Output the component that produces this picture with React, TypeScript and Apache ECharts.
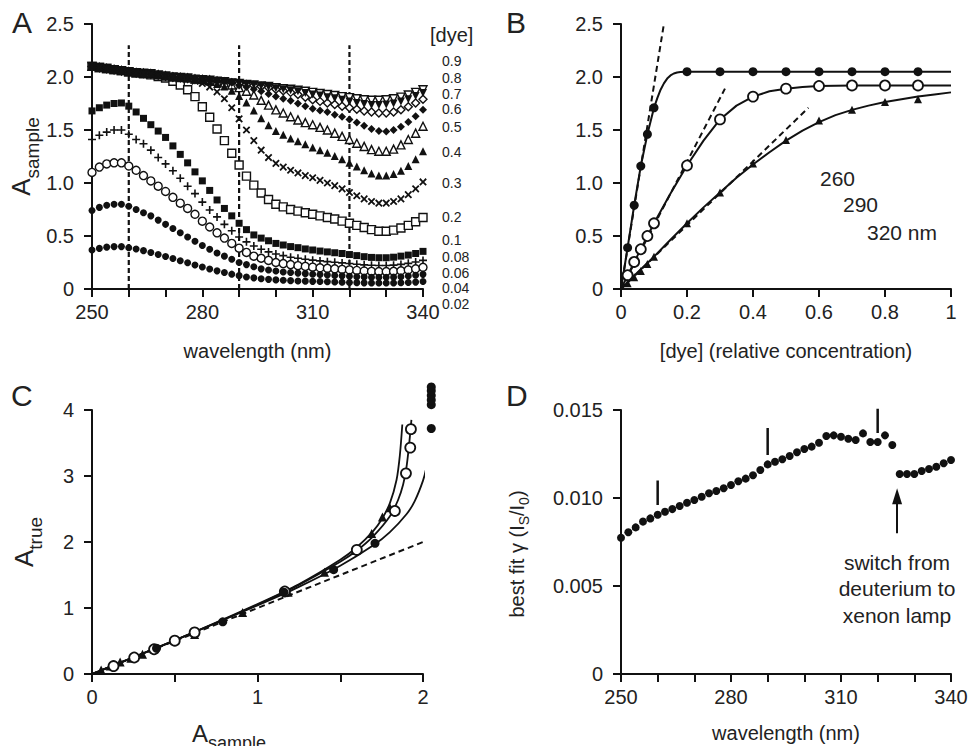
import React, { useEffect, useRef } from 'react';
import * as echarts from 'echarts';

// ---------- Panel A: spectra (wavelength, nm) ----------
const wl = [250,252,254,256,258,260,262,264,266,268,270,272,274,276,278,280,282,284,286,288,290,292,294,296,298,300,302,304,306,308,310,312,314,316,318,320,322,324,326,328,330,332,334,336,338,340];

const dye002 = [0.368,0.383,0.395,0.4,0.4,0.39,0.378,0.362,0.345,0.326,0.306,0.287,0.267,0.247,0.227,0.207,0.188,0.171,0.155,0.14,0.126,0.114,0.105,0.097,0.091,0.086,0.082,0.079,0.076,0.074,0.072,0.07,0.068,0.066,0.064,0.062,0.06,0.058,0.057,0.056,0.056,0.057,0.059,0.062,0.065,0.07];
const dye004 = [0.74,0.77,0.79,0.8,0.8,0.78,0.75,0.72,0.69,0.65,0.61,0.57,0.53,0.49,0.45,0.41,0.375,0.34,0.31,0.28,0.25,0.23,0.21,0.19,0.18,0.17,0.16,0.155,0.15,0.145,0.14,0.136,0.132,0.128,0.124,0.12,0.116,0.113,0.111,0.11,0.11,0.112,0.116,0.122,0.13,0.138];
const dye006 = [1.1,1.15,1.18,1.19,1.19,1.16,1.12,1.07,1.02,0.97,0.92,0.865,0.81,0.76,0.705,0.64,0.585,0.53,0.48,0.43,0.385,0.345,0.31,0.29,0.27,0.25,0.24,0.23,0.22,0.213,0.206,0.2,0.195,0.19,0.185,0.18,0.175,0.17,0.166,0.164,0.164,0.167,0.172,0.18,0.19,0.205];
const dye008 = [1.41,1.45,1.48,1.5,1.5,1.46,1.41,1.37,1.31,1.24,1.18,1.115,1.045,0.97,0.9,0.82,0.745,0.68,0.61,0.55,0.49,0.445,0.405,0.375,0.35,0.33,0.315,0.3,0.29,0.28,0.272,0.265,0.258,0.252,0.246,0.24,0.234,0.228,0.224,0.222,0.222,0.225,0.232,0.242,0.255,0.27];
const dye01 = [1.68,1.71,1.735,1.75,1.755,1.725,1.67,1.61,1.55,1.49,1.43,1.35,1.27,1.19,1.105,1.02,0.93,0.84,0.76,0.69,0.62,0.56,0.51,0.48,0.455,0.43,0.415,0.4,0.39,0.378,0.368,0.358,0.35,0.342,0.335,0.325,0.315,0.305,0.298,0.295,0.295,0.3,0.31,0.32,0.335,0.355];
const dye02 = [2.1,2.09,2.08,2.07,2.06,2.05,2.04,2.03,2.02,2.005,1.99,1.96,1.925,1.88,1.815,1.72,1.62,1.51,1.4,1.28,1.17,1.065,0.98,0.905,0.845,0.8,0.775,0.75,0.735,0.72,0.705,0.69,0.675,0.66,0.64,0.62,0.6,0.58,0.56,0.545,0.545,0.555,0.575,0.6,0.635,0.675];
const dye03 = [2.1,2.09,2.08,2.07,2.06,2.05,2.04,2.035,2.03,2.02,2.01,2.0,1.995,1.99,1.96,1.94,1.905,1.86,1.795,1.71,1.605,1.5,1.4,1.31,1.24,1.185,1.15,1.12,1.095,1.07,1.05,1.025,1.0,0.975,0.945,0.91,0.88,0.85,0.825,0.81,0.81,0.825,0.85,0.89,0.945,1.01];
const dye04 = [2.1,2.09,2.08,2.07,2.06,2.05,2.04,2.035,2.03,2.02,2.01,2.0,1.995,1.99,1.98,1.975,1.955,1.935,1.91,1.87,1.82,1.76,1.685,1.61,1.545,1.49,1.455,1.42,1.395,1.365,1.335,1.31,1.285,1.255,1.225,1.19,1.155,1.12,1.09,1.07,1.07,1.085,1.115,1.16,1.225,1.3];
const dye05 = [2.1,2.09,2.08,2.07,2.06,2.05,2.04,2.035,2.03,2.02,2.01,2.0,1.995,1.99,1.98,1.975,1.97,1.96,1.945,1.925,1.9,1.865,1.83,1.78,1.735,1.69,1.66,1.625,1.595,1.57,1.55,1.525,1.5,1.47,1.44,1.41,1.375,1.345,1.315,1.3,1.3,1.32,1.36,1.41,1.47,1.535];
const dye06 = [2.1,2.09,2.08,2.07,2.06,2.05,2.04,2.035,2.03,2.02,2.01,2.0,1.995,1.99,1.98,1.975,1.97,1.96,1.955,1.945,1.92,1.905,1.885,1.865,1.84,1.815,1.795,1.775,1.75,1.725,1.7,1.685,1.67,1.645,1.625,1.6,1.57,1.54,1.51,1.49,1.485,1.5,1.53,1.575,1.63,1.69];
const dye07 = [2.1,2.09,2.08,2.07,2.06,2.05,2.04,2.035,2.03,2.02,2.01,2.0,1.995,1.99,1.98,1.975,1.97,1.96,1.955,1.945,1.94,1.93,1.92,1.91,1.9,1.885,1.87,1.855,1.835,1.81,1.785,1.77,1.755,1.74,1.725,1.71,1.695,1.68,1.67,1.66,1.66,1.67,1.69,1.72,1.755,1.79];
const dye08 = [2.1,2.09,2.08,2.07,2.06,2.05,2.04,2.035,2.03,2.02,2.01,2.0,1.995,1.99,1.98,1.975,1.97,1.96,1.955,1.945,1.94,1.93,1.925,1.915,1.905,1.895,1.885,1.875,1.865,1.85,1.835,1.825,1.81,1.8,1.785,1.77,1.755,1.745,1.735,1.735,1.74,1.75,1.77,1.79,1.82,1.85];
const dye09 = [2.1,2.09,2.08,2.07,2.06,2.05,2.04,2.035,2.03,2.02,2.01,2.0,1.995,1.99,1.98,1.975,1.97,1.96,1.955,1.945,1.94,1.93,1.925,1.915,1.91,1.9,1.89,1.885,1.875,1.865,1.855,1.845,1.835,1.825,1.815,1.805,1.795,1.785,1.78,1.78,1.785,1.795,1.81,1.83,1.855,1.88];

const dyeLabels = ['0.9','0.8','0.7','0.6','0.5','0.4','0.3','0.2','0.1','0.08','0.06','0.04','0.02'];
const dashWl = [260, 290, 320];
const dashTop = 2.3;

// ---------- Panel B: absorbance vs concentration ----------
const bConc = [0.02,0.04,0.06,0.08,0.1,0.2,0.3,0.4,0.5,0.6,0.7,0.8,0.9];
const bA260 = [0.39,0.79,1.16,1.46,1.71,2.05,2.05,2.05,2.05,2.05,2.05,2.05,2.05];
const bA290 = [0.13,0.255,0.375,0.5,0.62,1.165,1.6,1.815,1.89,1.915,1.92,1.92,1.92];
const bA320 = [0.055,0.11,0.17,0.235,0.305,0.62,0.91,1.185,1.405,1.59,1.69,1.765,1.79];
const bFit260c = [0,0.02,0.04,0.06,0.08,0.1,0.11,0.12,0.13,0.14,0.15,0.16,0.17,0.18,0.2,1.0];
const bFit260a = [0,0.39,0.79,1.16,1.46,1.71,1.8,1.88,1.94,1.985,2.015,2.033,2.043,2.048,2.05,2.05];
const bFitC = [0,0.05,0.1,0.15,0.2,0.25,0.3,0.35,0.4,0.45,0.5,0.55,0.6,0.65,0.7,0.75,0.8,0.85,0.9,0.95,1.0];
const bFit290a = [0,0.315,0.62,0.9,1.165,1.4,1.6,1.73,1.815,1.865,1.89,1.905,1.915,1.918,1.92,1.92,1.92,1.92,1.92,1.92,1.92];
const bFit320a = [0,0.155,0.305,0.465,0.62,0.77,0.91,1.05,1.175,1.29,1.4,1.495,1.575,1.64,1.69,1.73,1.765,1.79,1.815,1.835,1.855];
const bLin260 = [[0,0],[0.13,2.5]];
const bLin290 = [[0,0],[0.315,1.89]];
const bLin320 = [[0,0],[0.568,1.71]];
const bLabels = ['260', '290', '320 nm'];

// ---------- Panel C: A_true vs A_sample ----------
const cS260 = [0.39,0.79,1.16,1.46,1.71,2.05,2.05,2.05,2.05,2.05,2.05];
const cT260 = [0.39,0.79,1.24,1.58,1.98,3.72,4.08,4.15,4.22,4.29,4.35];
const cS290 = [0.13,0.255,0.375,0.5,0.62,1.165,1.6,1.83,1.897,1.923,1.927];
const cT290 = [0.12,0.25,0.375,0.505,0.63,1.25,1.88,2.47,3.04,3.43,3.71];
const cS320 = [0.055,0.11,0.17,0.235,0.305,0.62,0.91,1.185,1.405,1.59,1.69,1.755,1.8];
const cT320 = [0.06,0.12,0.18,0.24,0.3,0.6,0.93,1.24,1.54,1.87,2.13,2.38,2.52];
const cFit260 = [[0,0],[0.5,0.51],[1,1.04],[1.25,1.32],[1.5,1.64],[1.7,1.95],[1.8,2.15],[1.9,2.42],[1.95,2.62],[2.0,2.93],[2.02,3.13],[2.04,3.5],[2.048,3.9],[2.05,4.35]];
const cFit290 = [[0,0],[0.5,0.51],[1,1.05],[1.25,1.35],[1.5,1.7],[1.6,1.87],[1.7,2.09],[1.8,2.39],[1.85,2.64],[1.88,2.87],[1.9,3.13],[1.915,3.45],[1.93,3.85]];
const cFit320 = [[0,0],[0.5,0.51],[1,1.06],[1.25,1.36],[1.5,1.73],[1.6,1.92],[1.7,2.17],[1.75,2.34],[1.8,2.59],[1.84,2.94],[1.86,3.31],[1.875,3.78]];
const cIdentity = [[0,0],[2,2]];

// ---------- Panel D: best-fit gamma ----------
const dGamma = [0.00774,0.00805,0.00833,0.00866,0.00884,0.00905,0.00922,0.00937,0.00955,0.00973,0.00989,0.01007,0.01027,0.0104,0.01055,0.01074,0.01095,0.0111,0.01129,0.01159,0.01191,0.01206,0.0122,0.01239,0.0126,0.01278,0.01292,0.01314,0.01352,0.01356,0.01348,0.01337,0.0133,0.01367,0.01318,0.01318,0.01356,0.01301,0.01136,0.01136,0.01136,0.01153,0.01165,0.01178,0.01197,0.01216];
const dBarWl = [260, 290, 320];
const dBarLow = [0.0096, 0.01244, 0.01369];
const dBarHigh = [0.011, 0.01398, 0.01523];
const dArrowWl = 325.3;
const dArrowFrom = 0.008;
const dArrowTo = 0.0101;
const dNote = ['switch from', 'deuterium to', 'xenon lamp'];

const FONT = "'Liberation Sans', Arial, Helvetica, sans-serif";
const TXT = '#222';
const INK = '#111';
const PLUS = 'path://M4,0h2v4h4v2h-4v4h-2v-4h-4v-2h4z';

const open = { color: '#fff', borderColor: INK, borderWidth: 1.4, opacity: 1 };
const filled = { color: INK, borderWidth: 0, opacity: 1 };

const subRich = (mainSize: number, subSize: number, pad: number) => ({
  a: { fontSize: mainSize, fontFamily: FONT, color: TXT },
  s: { fontSize: subSize, fontFamily: FONT, color: TXT, padding: [pad, 0, 0, 0] },
});

function axisBase(extra: any) {
  return {
    type: 'value',
    axisLine: { show: true, onZero: false, lineStyle: { color: INK, width: 2 } },
    axisTick: { show: true, length: 8, lineStyle: { color: INK, width: 2 } },
    splitLine: { show: false },
    ...extra,
    nameTextStyle: { color: TXT, fontSize: 20, fontFamily: FONT, ...(extra.nameTextStyle || {}) },
    axisLabel: { color: TXT, fontSize: 20, fontFamily: FONT, ...(extra.axisLabel || {}) },
  };
}

function buildOption() {
  const fmt1 = (v: number) => (v === 0 ? '0' : v.toFixed(1));
  const xWl = (v: number) => ((v - 250) % 30 === 0 ? String(v) : '');

  const aSpecs = [
    { d: dye02, sym: 'rect', rot: 0, size: 8, st: open },
    { d: dye09, sym: 'triangle', rot: 180, size: 8, st: open },
    { d: dye07, sym: 'diamond', rot: 0, size: 8, st: open },
    { d: dye05, sym: 'triangle', rot: 0, size: 8, st: open },
    { d: dye08, sym: 'triangle', rot: 180, size: 8, st: filled },
    { d: dye06, sym: 'diamond', rot: 0, size: 8, st: filled },
    { d: dye04, sym: 'triangle', rot: 0, size: 8, st: filled },
    { d: dye03, sym: PLUS, rot: 45, size: 9, st: filled },
    { d: dye01, sym: 'rect', rot: 0, size: 7, st: filled },
    { d: dye008, sym: PLUS, rot: 0, size: 8, st: filled },
    { d: dye006, sym: 'circle', rot: 0, size: 8, st: open },
    { d: dye004, sym: 'circle', rot: 0, size: 7, st: filled },
    { d: dye002, sym: 'circle', rot: 0, size: 7, st: filled },
  ];

  const series: any[] = [];
  dashWl.forEach((w) => {
    series.push({
      type: 'line', xAxisIndex: 0, yAxisIndex: 0, data: [[w, 0], [w, dashTop]], symbol: 'none', silent: true,
      lineStyle: { color: INK, width: 2.2, type: [5, 3] }, z: 1,
    });
  });
  aSpecs.forEach((s) => {
    series.push({
      type: 'scatter', xAxisIndex: 0, yAxisIndex: 0, symbol: s.sym, symbolRotate: s.rot, symbolSize: s.size,
      data: wl.map((w, i) => [w, s.d[i]]), itemStyle: s.st, silent: true, z: 3,
    });
  });

  // Panel B
  const lineB = (c: number[], a: number[]) => ({
    type: 'line', xAxisIndex: 1, yAxisIndex: 1, data: c.map((x, i) => [x, a[i]]), symbol: 'none', smooth: false,
    silent: true, lineStyle: { color: INK, width: 2 }, z: 2,
  });
  series.push(lineB(bFit260c, bFit260a), lineB(bFitC, bFit290a), lineB(bFitC, bFit320a));
  [bLin260, bLin290, bLin320].forEach((d) => series.push({
    type: 'line', xAxisIndex: 1, yAxisIndex: 1, data: d, symbol: 'none', silent: true,
    lineStyle: { color: INK, width: 2, type: [6, 4] }, z: 2,
  }));
  series.push(
    { type: 'scatter', xAxisIndex: 1, yAxisIndex: 1, symbol: 'circle', symbolSize: 9, data: bConc.map((c, i) => [c, bA260[i]]), itemStyle: filled, z: 3, silent: true },
    { type: 'scatter', xAxisIndex: 1, yAxisIndex: 1, symbol: 'circle', symbolSize: 10, data: bConc.map((c, i) => [c, bA290[i]]), itemStyle: { ...open, borderWidth: 1.8 }, z: 3, silent: true },
    { type: 'scatter', xAxisIndex: 1, yAxisIndex: 1, symbol: 'triangle', symbolSize: 8, data: bConc.map((c, i) => [c, bA320[i]]), itemStyle: filled, z: 3, silent: true },
  );

  // Panel C
  [cFit260, cFit290, cFit320].forEach((d) => series.push({
    type: 'line', xAxisIndex: 2, yAxisIndex: 2, data: d, symbol: 'none', smooth: 0.3, clip: false, silent: true,
    lineStyle: { color: INK, width: 1.8 }, z: 2,
  }));
  series.push({
    type: 'line', xAxisIndex: 2, yAxisIndex: 2, data: cIdentity, symbol: 'none', silent: true,
    lineStyle: { color: INK, width: 2, type: [6, 4] }, z: 2,
  });
  series.push(
    { type: 'scatter', xAxisIndex: 2, yAxisIndex: 2, symbol: 'triangle', symbolSize: 9, data: cS320.map((a, i) => [a, cT320[i]]), itemStyle: filled, z: 3, clip: false, silent: true },
    { type: 'scatter', xAxisIndex: 2, yAxisIndex: 2, symbol: 'circle', symbolSize: 10, data: cS290.map((a, i) => [a, cT290[i]]), itemStyle: { ...open, borderWidth: 1.8 }, z: 3, clip: false, silent: true },
    { type: 'scatter', xAxisIndex: 2, yAxisIndex: 2, symbol: 'circle', symbolSize: 9, data: cS260.map((a, i) => [a, cT260[i]]), itemStyle: filled, z: 3, clip: false, silent: true },
  );

  // Panel D
  dBarWl.forEach((w, i) => series.push({
    type: 'line', xAxisIndex: 3, yAxisIndex: 3, data: [[w, dBarLow[i]], [w, dBarHigh[i]]], symbol: 'none', silent: true,
    lineStyle: { color: INK, width: 2.5 }, z: 2,
  }));
  series.push({
    type: 'scatter', xAxisIndex: 3, yAxisIndex: 3, symbol: 'circle', symbolSize: 8,
    data: wl.map((w, i) => [w, dGamma[i]]), itemStyle: filled, z: 3, silent: true,
    markLine: {
      silent: true, symbol: ['none', 'triangle'], symbolSize: [10, 16], label: { show: false },
      lineStyle: { color: INK, width: 2, type: 'solid' },
      data: [[{ coord: [dArrowWl, dArrowFrom] }, { coord: [dArrowWl, dArrowTo] }]],
    },
  });

  const txt = (text: string, x: number, y: number, size: number, align = 'left') => ({
    type: 'text', x, y, silent: true,
    style: { text, fill: TXT, fontSize: size, fontFamily: FONT, align, verticalAlign: 'middle' },
  });

  const dyeY = [61, 78, 94, 109, 127, 152, 183, 217, 240, 257, 273, 288, 304];
  const graphic: any[] = [
    txt('A', 12, 22, 30), txt('B', 506, 22, 30), txt('C', 11, 395, 30), txt('D', 506, 395, 30),
    txt('[dye]', 430, 35, 20),
    ...dyeLabels.map((l, i) => txt(l, 442, dyeY[i], 14)),
    txt(bLabels[0], 820, 178, 21), txt(bLabels[1], 843, 204, 21), txt(bLabels[2], 867, 232, 21),
    ...dNote.map((l, i) => txt(l, 897, 562 + i * 26.5, 21, 'center')),
    {
      type: 'text', x: 229, y: 733, silent: true,
      style: {
        text: '{a|A}{s|sample}', fill: TXT, align: 'center', verticalAlign: 'middle',
        rich: subRich(24, 18, 20),
      },
    },
    {
      type: 'text', x: 517, y: 554, rotation: Math.PI / 2, silent: true,
      style: {
        text: '{n|best fit γ (I}{s|S}{n|/I}{s|0}{n|)}', fill: TXT, align: 'center', verticalAlign: 'middle',
        rich: {
          n: { fontSize: 20, fontFamily: FONT, color: TXT },
          s: { fontSize: 14, fontFamily: FONT, color: TXT, padding: [14, 0, 0, 0] },
        },
      },
    },
  ];

  return {
    animation: false,
    backgroundColor: '#fff',
    textStyle: { fontFamily: FONT },
    grid: [
      { left: 92, top: 24, width: 331, height: 265 },
      { left: 621, top: 24, width: 330, height: 265 },
      { left: 92, top: 410, width: 331, height: 264 },
      { left: 621, top: 410, width: 330, height: 264 },
    ],
    xAxis: [
      axisBase({ gridIndex: 0, min: 250, max: 340, interval: 10, axisLabel: { margin: 13, formatter: xWl }, name: 'wavelength (nm)', nameLocation: 'middle', nameGap: 52 }),
      axisBase({ gridIndex: 1, min: 0, max: 1, interval: 0.2, axisLabel: { margin: 13, formatter: (v: number) => (v === 0 ? '0' : v === 1 ? '1' : v.toFixed(1)) }, name: '[dye] (relative concentration)', nameLocation: 'middle', nameGap: 52 }),
      axisBase({ gridIndex: 2, min: 0, max: 2, interval: 0.5, axisLabel: { margin: 13, formatter: (v: number) => (Number.isInteger(v) ? String(v) : '') } }),
      axisBase({ gridIndex: 3, min: 250, max: 340, interval: 10, axisLabel: { margin: 13, formatter: xWl }, name: 'wavelength (nm)', nameLocation: 'middle', nameGap: 49 }),
    ],
    yAxis: [
      axisBase({
        gridIndex: 0, min: 0, max: 2.5, interval: 0.5, axisLabel: { margin: 18, formatter: fmt1 },
        name: '{a|A}{s|sample}', nameLocation: 'middle', nameRotate: 90, nameGap: 47,
        nameTextStyle: { rich: subRich(26, 19, 24) },
      }),
      axisBase({ gridIndex: 1, min: 0, max: 2.5, interval: 0.5, axisLabel: { margin: 18, formatter: fmt1 } }),
      axisBase({
        gridIndex: 2, min: 0, max: 4, interval: 1, axisLabel: { margin: 18 },
        name: '{a|A}{s|true}', nameLocation: 'middle', nameRotate: 90, nameGap: 47,
        nameTextStyle: { rich: subRich(26, 19, 24) },
      }),
      axisBase({ gridIndex: 3, min: 0, max: 0.015, interval: 0.005, axisLabel: { margin: 18, formatter: (v: number) => (v === 0 ? '0' : v.toFixed(3)) } }),
    ],
    series,
    graphic,
  };
}

export default function App() {
  const ref = useRef<HTMLDivElement>(null);
  useEffect(() => {
    const chart = echarts.init(ref.current!, null, { renderer: 'svg' });
    chart.setOption(buildOption() as any);
    return () => chart.dispose();
  }, []);
  return <div ref={ref} style={{ position: 'fixed', left: 0, top: 0, width: 971, height: 746, background: '#fff' }} />;
}
